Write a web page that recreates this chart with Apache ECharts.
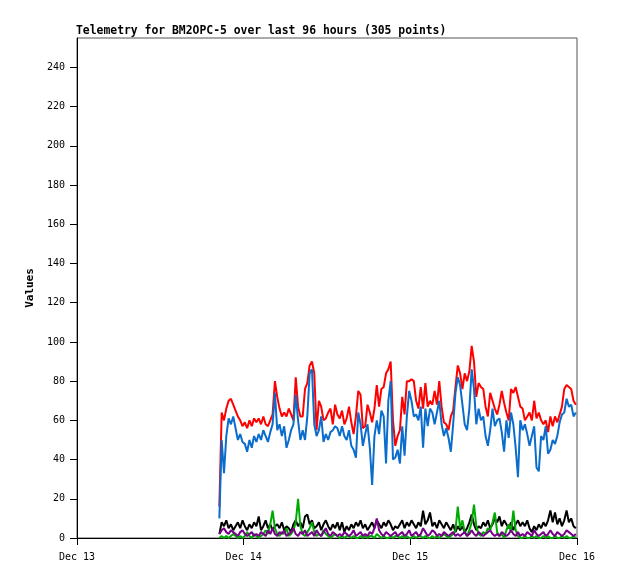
<!DOCTYPE html>
<html>
<head>
<meta charset="utf-8">
<script src="https://cdn.jsdelivr.net/npm/echarts@6/dist/echarts.min.js"></script>
<style>
html,body{margin:0;padding:0;background:#fff;}
#chart{width:618px;height:579px;}
</style>
</head>
<body>
<div id="chart"></div>
<script>
// x tick labels (hours since Dec 13 00:00, one per day)
var xTickLabels = ['Dec 13', 'Dec 14', 'Dec 15', 'Dec 16'];
var yTicks = [0, 20, 40, 60, 80, 100, 120, 140, 160, 180, 200, 220, 240];
// sample times: first sample hour and spacing (hours)
var startHour = 20.5;
var stepHour = 1 / 3;

var red = [16, 64, 60, 66, 70, 71, 68, 65, 62, 60, 57, 59, 56, 60, 57, 61, 59, 61, 58, 62, 58, 57, 60, 63, 80,
  72, 66, 62, 64, 62, 66, 63, 60, 82, 67, 62, 62, 76, 79, 88, 90, 84, 55, 70, 67, 60, 61, 64, 66, 58, 68, 63,
  61, 65, 58, 61, 67, 59, 53, 62, 75, 73, 56, 57, 68, 64, 59, 66, 78, 67, 76, 77, 84, 86, 90, 60, 47, 52,
  55, 72, 63, 80, 80, 81, 80, 70, 66, 77, 66, 79, 67, 70, 68, 75, 68, 80, 67, 59, 58, 55, 62, 65, 77, 88,
  84, 76, 84, 80, 85, 98, 90, 72, 79, 77, 76, 67, 62, 74, 70, 66, 63, 68, 75, 69, 64, 60, 76, 74, 77, 72, 67,
  66, 60, 62, 64, 60, 70, 61, 64, 60, 58, 60, 54, 62, 57, 62, 59, 63, 67, 76, 78, 77, 76, 70, 68];

var blue = [10, 50, 33, 52, 61, 58, 62, 56, 50, 53, 49, 48, 44, 50, 46, 52, 49, 53, 50, 55, 52, 49, 54, 58, 74,
  55, 58, 52, 57, 46, 50, 55, 58, 73, 60, 50, 55, 50, 62, 84, 86, 58, 52, 55, 62, 49, 53, 50, 54, 55, 57, 56,
  52, 57, 52, 50, 55, 47, 45, 41, 64, 58, 47, 53, 58, 46, 27, 52, 60, 53, 65, 62, 38, 70, 80, 40, 41, 45,
  38, 57, 42, 62, 75, 70, 62, 63, 60, 67, 46, 66, 57, 66, 64, 58, 64, 70, 58, 52, 56, 51, 44, 58, 74, 82,
  78, 68, 58, 55, 66, 86, 76, 58, 66, 60, 62, 52, 47, 55, 66, 57, 60, 61, 54, 44, 60, 51, 64, 58, 46, 31, 60,
  55, 58, 53, 47, 52, 57, 36, 34, 52, 50, 57, 43, 45, 50, 48, 52, 59, 63, 64, 71, 67, 68, 62, 64];

var black = [2, 8, 6, 9, 5, 7, 4, 6, 8, 5, 9, 6, 4, 7, 5, 8, 6, 11, 4, 6, 9, 5, 7, 4, 6,
  7, 5, 8, 4, 6, 5, 3, 7, 9, 6, 8, 5, 11, 12, 7, 9, 5, 6, 8, 4, 7, 9, 6, 4, 7, 5, 8,
  4, 8, 3, 6, 4, 7, 5, 8, 6, 9, 5, 7, 4, 6, 8, 5, 9, 7, 5, 8, 6, 9, 7, 4, 6, 5,
  7, 9, 5, 8, 6, 9, 7, 5, 8, 6, 14, 7, 9, 13, 6, 8, 5, 9, 7, 5, 8, 6, 4, 7, 3, 6,
  4, 6, 3, 5, 8, 12, 7, 4, 6, 5, 8, 6, 9, 5, 7, 10, 8, 11, 6, 9, 7, 5, 8, 4, 7, 9, 6,
  8, 6, 9, 5, 3, 6, 4, 7, 5, 8, 6, 9, 14, 8, 13, 7, 10, 6, 9, 14, 8, 10, 6, 5];

var green = [0, 1, 0, 1, 0, 1, 2, 1, 0, 1, 0, 1, 3, 1, 0, 2, 1, 0, 1, 2,
  4, 2, 7, 14, 5,
  2, 1, 3, 2, 5, 1, 2, 4, 8, 20, 6, 2, 1, 3, 5,
  8, 3, 1, 2, 1, 4, 2, 1, 0, 1, 2, 1,
  0, 1, 0, 1, 1, 0, 1, 0, 0, 1,
  0, 1, 0, 1, 1, 0, 2, 1, 0, 1,
  0, 0, 1, 0, 1, 1, 0, 1, 0, 1,
  0, 0, 1, 0, 1, 1, 0, 1, 0, 0,
  1, 0, 1, 0, 1, 2, 1, 0, 1,
  2, 4, 16, 5, 9, 3, 1, 4, 8, 17, 6, 2, 1, 3, 2, 5, 4, 8, 13, 3, 1, 2, 0, 4, 7, 3, 14, 4, 1, 0,
  0, 1, 0, 0, 1, 0, 1, 0, 0, 1, 0, 1, 0, 0, 1, 0, 0, 1, 0, 1, 0, 0, 1, 0];

var purple = [2, 4, 5, 3, 2, 4, 3, 2, 1, 3, 4, 2, 1, 2, 3, 1, 2, 1, 3, 2, 1, 4, 2, 5, 2,
  1, 3, 2, 4, 1, 2, 3, 5, 2, 1, 3, 2, 4, 1, 2, 3, 1, 4, 2, 1, 3, 5, 2, 1, 3, 2, 1,
  2, 1, 3, 2, 1, 2, 4, 1, 2, 3, 1, 2, 1, 3, 2, 5, 10, 4, 2, 1, 3, 2, 1, 2, 3, 1,
  2, 3, 1, 2, 4, 1, 2, 3, 1, 2, 5, 3, 1, 2, 4, 3, 1, 2, 1, 3, 2, 1, 2, 3, 1, 2,
  1, 2, 3, 1, 2, 4, 2, 1, 3, 2, 1, 2, 3, 4, 2, 1, 2, 1, 3, 2, 1, 2, 4, 2, 1, 3, 1,
  2, 1, 3, 2, 1, 4, 2, 1, 2, 3, 1, 2, 4, 2, 1, 3, 2, 1, 2, 4, 3, 2, 1, 2];

function pairs(arr) {
  return arr.map(function (v, i) { return [startHour + i * stepHour, v]; });
}

var mono = '"DejaVu Sans Mono", "Liberation Mono", monospace';
var chart = echarts.init(document.getElementById('chart'), null, {renderer: 'canvas'});

function line(name, arr, color) {
  return {
    name: name, type: 'line', data: pairs(arr), showSymbol: false, symbol: 'none',
    lineStyle: {color: color, width: 2}, itemStyle: {color: color},
    emphasis: {disabled: true}, silent: true
  };
}

chart.setOption({
  animation: false,
  backgroundColor: '#ffffff',
  title: {
    text: 'Telemetry for BM2OPC-5 over last 96 hours (305 points)',
    left: 76, top: 26, padding: 0,
    textStyle: {fontFamily: mono, fontSize: 11.4, fontWeight: 'bold', color: '#000'}
  },
  grid: {left: 77, right: 41, top: 38, bottom: 41, show: true, borderColor: '#555', borderWidth: 1, containLabel: false},
  xAxis: {
    type: 'value', min: 0, max: 72, interval: 24,
    axisLine: {show: true, lineStyle: {color: '#000', width: 1}},
    axisTick: {show: true, length: 7, inside: false, lineStyle: {color: '#000'}},
    axisLabel: {
      margin: 14, fontFamily: mono, fontSize: 10, color: '#000',
      formatter: function (v) { return xTickLabels[Math.round(v / 24)]; }
    },
    splitLine: {show: false}
  },
  yAxis: {
    type: 'value', min: 0, max: 255,
    name: 'Values', nameLocation: 'middle', nameGap: 40, nameRotate: 90,
    nameTextStyle: {fontFamily: mono, fontSize: 11, fontWeight: 'bold', color: '#000'},
    axisLine: {show: true, lineStyle: {color: '#000', width: 1}},
    axisTick: {show: true, length: 7, customValues: yTicks, lineStyle: {color: '#000'}},
    axisLabel: {margin: 12, fontFamily: mono, fontSize: 10, color: '#000', customValues: yTicks},
    splitLine: {show: false}
  },
  series: [
    line('red', red, '#ff0000'),
    line('blue', blue, '#0a6ccc'),
    line('black', black, '#000000'),
    line('green', green, '#00aa00'),
    line('purple', purple, '#770088')
  ]
});
</script>
</body>
</html>
